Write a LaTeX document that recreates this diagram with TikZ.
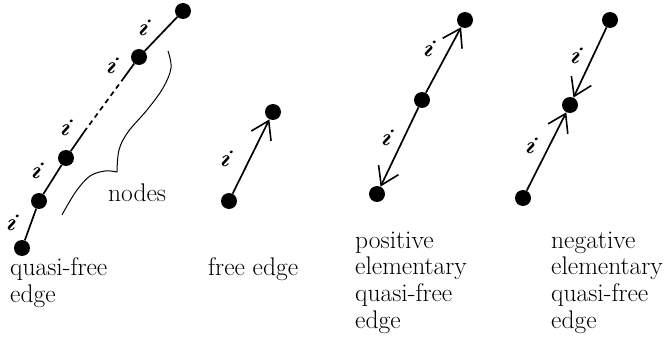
\documentclass[tikz,border=0pt]{standalone}
\usepackage{amsmath,bm}
\usetikzlibrary{arrows.meta}
\begin{document}
\begin{tikzpicture}[x=1pt,y=-1pt,
  dot/.style={circle,fill=black,inner sep=0pt,minimum size=16pt},
  edgeline/.style={line width=1.7pt},
  barb/.style={edgeline,-{Straight Barb[length=17pt,width=22pt,line width=1.6pt]}},
  lab/.style={inner sep=0pt,rotate=-22,font=\fontsize{23}{25}\selectfont},
  txt/.style={inner sep=0pt,align=left,anchor=base west,font=\fontsize{25.5}{26.6}\selectfont}]
\useasboundingbox (0,0) rectangle (665,345);
% quasi-free edge
\node[dot] (q1) at (22,248) {};
\node[dot] (q2) at (39,201) {};
\node[dot] (q3) at (66,158) {};
\node[dot] (q4) at (139,57) {};
\node[dot] (q5) at (183,11) {};
\coordinate (d1) at (84,132);
\coordinate (d2) at (123,79);
\draw[edgeline] (q1) -- (q2);
\draw[edgeline] (q2) -- (q3);
\draw[edgeline] (q3) -- (d1);
\draw[edgeline,dash pattern=on 5pt off 4pt] (d1) -- (d2);
\draw[edgeline] (d2) -- (q4);
\draw[edgeline] (q4) -- (q5);
\node[lab] (l1) at (13,222) {$\bm{i}$};
\node[lab] (l2) at (38,170) {$\bm{i}$};
\node[lab] (l3) at (67,127) {$\bm{i}$};
\node[lab] (l4) at (113,65) {$\bm{i}$};
\node[lab] (l5) at (145,27) {$\bm{i}$};
\draw[line width=1pt] plot[smooth,tension=0.6] coordinates {(168,51) (171,68) (163,88) (147,110) (128,132) (119,150) (117,172)};
\draw[line width=1pt] plot[smooth,tension=0.6] coordinates {(117,172) (105,171) (90,176) (77,190) (67,206) (62,215)};
\node[txt] (nodes) at (108,201) {nodes};
\node[txt] (t1) at (10,302) {quasi-free\\edge};
% free edge
\node[dot] (f1) at (229,201) {};
\node[dot] (f2) at (273,112) {};
\draw[barb] (f1) -- (f2);
\node[lab] (fl) at (227,158) {$\bm{i}$};
\node[txt] (t2) at (208,275) {free edge};
% positive elementary
\node[dot] (p1) at (465,20) {};
\node[dot] (p2) at (422,100) {};
\node[dot] (p3) at (377,194) {};
\draw[barb] (p2) -- (p1);
\draw[barb] (p2) -- (p3);
\node[lab] (pl1) at (430,48) {$\bm{i}$};
\node[lab] (pl2) at (388,137) {$\bm{i}$};
\node[txt] (t3) at (355,328) {positive\\elementary\\quasi-free\\edge};
% negative elementary
\node[dot] (n1) at (610,20) {};
\node[dot] (n2) at (570,105) {};
\node[dot] (n3) at (523,198) {};
\draw[barb] (n1) -- (n2);
\draw[barb] (n3) -- (n2);
\node[lab] (nl1) at (577,55) {$\bm{i}$};
\node[lab] (nl2) at (532,145) {$\bm{i}$};
\node[txt] (t4) at (551,328) {negative\\elementary\\quasi-free\\edge};
\end{tikzpicture}
\end{document}
